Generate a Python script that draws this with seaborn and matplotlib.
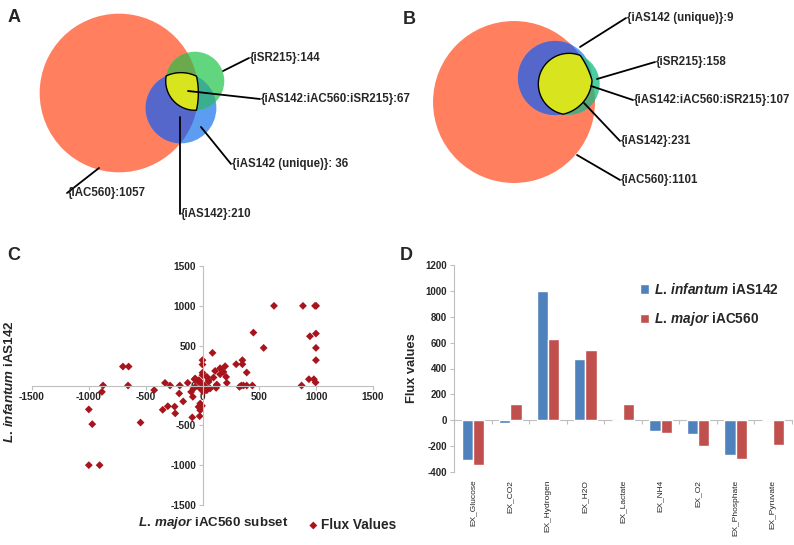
"""Four-panel figure: two area-proportional Venn diagrams (A, B),
a flux scatter (C) and an exchange-flux bar chart (D)."""

import matplotlib
matplotlib.use("Agg")
import matplotlib.pyplot as plt
import numpy as np
import pandas as pd
import seaborn as sns
from matplotlib.patches import Circle, Polygon

# ---------------------------------------------------------------- data
# Venn counts: iAC560, iAS142, iAS142 unique, iSR215, shared by all three
venn_a_counts = [1057, 210, 36, 144, 67]
venn_b_counts = [1101, 231, 9, 158, 107]

# Panel C: L. major iAC560 subset (x) vs L. infantum iAS142 (y)
flux_major = [
    -1000, -970, -1000, -905, -875, -885, -700, -650, -655, -545,
    -425, -350, -330, -305, -285, -245, -240, -200, -205, -170,
    -130, -100, -85, -80, -70, -90, -25, -20, -5, 0,
    0, 0, 0, -32, -64, -64, -35, -20, -5, 9,
    24, 38, 9, 53, 38, 53, 67, 88, 97, 111,
    126, 120, 126, 155, 185, 155, 208, 214, 199, 296,
    325, 342, 351, 351, 360, 389, 389, 439, 448, 538,
    629, 872, 884, 936, 945, 990, 1000, 998, 998, 998,
    980, 995, -35, -20,
]
flux_infantum = [
    -300, -485, -1000, -1000, 0, -80, 238, 238, 0, -465,
    -58, -305, 33, -260, 0, -265, -350, 0, -100, -200,
    33, -80, -142, -38, 79, -400, -385, -310, -255, 318,
    263, 160, 130, 67, 88, -17, 45, -38, 25, 4,
    -17, -59, -80, 45, 109, 67, -38, 410, 100, 183,
    12, -30, 0, 217, 170, 141, 108, 33, 242, 267,
    -17, 0, 318, 267, 0, 0, 163, 0, 664, 472,
    1000, 0, 1000, 79, 618, 1000, 1000, 652, 472, 318,
    79, 38, -268, -226,
]

# Panel D: exchange fluxes
exchanges = ["EX_Glucose", "EX_CO2", "EX_Hydrogen", "EX_H2O", "EX_Lactate",
             "EX_NH4", "EX_O2", "EX_Phosphate", "EX_Pyruvate"]
flux_ias142 = [-308, -25, 1000, 470, 0, -85, -105, -265, 0]
flux_iac560 = [-345, 125, 625, 540, 125, -100, -200, -300, -195]
model_names = [r"$\mathit{L.\,infantum}$ iAS142", r"$\mathit{L.\,major}$ iAC560"]

# ---------------------------------------------------------------- style
sns.set_style("white")
plt.rcParams["font.family"] = ["Liberation Sans", "DejaVu Sans"]
plt.rcParams["axes.unicode_minus"] = False
plt.rcParams["mathtext.fontset"] = "custom"
plt.rcParams["mathtext.it"] = "Liberation Sans:italic:bold"
plt.rcParams["mathtext.rm"] = "Liberation Sans:bold"

RED, BLUE = "#FF7F5F", "#5C9DF2"
AXIS_GREY = "#BFBFBF"
K = 2.44  # px per sqrt(count)

fig = plt.figure(figsize=(7.94, 5.45), dpi=100)

# full-figure canvas in pixel units for the Venn panels and letters
canvas = fig.add_axes([0, 0, 1, 1], zorder=0)
canvas.set_xlim(0, 794)
canvas.set_ylim(545, 0)
canvas.axis("off")


def lens(circles, n=720):
    """Polygon of the intersection of convex circles."""
    pts = []
    for i, (cx, cy, r) in enumerate(circles):
        t = np.linspace(0, 2 * np.pi, n, endpoint=False)
        x, y = cx + r * np.cos(t), cy + r * np.sin(t)
        ok = np.ones(n, bool)
        for j, (ox, oy, orad) in enumerate(circles):
            if j != i:
                ok &= (x - ox) ** 2 + (y - oy) ** 2 <= orad ** 2 + 1e-6
        pts.append(np.c_[x[ok], y[ok]])
    pts = np.vstack(pts)
    c = pts.mean(0)
    return pts[np.argsort(np.arctan2(pts[:, 1] - c[1], pts[:, 0] - c[0]))]


def venn(ax, counts, centers, colors, labels, leaders):
    big, shared, unique, sr, core = counts
    red = (*centers[0], K * np.sqrt(big))
    blue = (*centers[1], K * np.sqrt(shared))
    green = (*centers[2], K * np.sqrt(sr))
    ax.add_patch(Circle(red[:2], red[2], fc=RED, ec="none"))
    ax.add_patch(Circle(blue[:2], blue[2], fc=BLUE, ec="none"))
    ax.add_patch(Circle(green[:2], green[2], fc=colors["green"], ec="none"))
    ax.add_patch(Polygon(lens([blue, green]), fc=colors["bg"], ec="none"))
    ax.add_patch(Polygon(lens([red, blue]), fc="#5567CB", ec="none"))
    ax.add_patch(Polygon(lens([red, green]), fc=colors["rg"], ec="none"))
    ax.add_patch(Polygon(lens([red, blue, green]), fc="#D8E51E", ec="black", lw=1))
    for txt, (x0, y0, x1, y1) in zip(labels, leaders):
        ax.plot([x0, x1], [y0, y1], color="black", lw=1.3)
        ax.text(x1 + 1, y1, txt, fontsize=8.3, fontweight="bold", ha="left", va="center")


a = venn_a_counts
venn(canvas, a, [(119, 93), (181, 108), (195, 81)],
     {"green": "#61D67F", "bg": "#3BAE8F", "rg": "#6AAA4C"},
     [f"{{iSR215}}:{a[3]}", f"{{iAS142:iAC560:iSR215}}:{a[4]}",
      f"{{iAS142 (unique)}}: {a[2]}", f"{{iAC560}}:{a[0]}", f"{{iAS142}}:{a[1]}"],
     [(223, 71, 249, 58), (188, 91, 260, 99), (201, 127, 231, 164),
      (99, 168, 67, 193), (180, 117, 180, 214)])
b = venn_b_counts
venn(canvas, b, [(514, 102), (555, 78), (569, 84)],
     {"green": "#4CCFA0", "bg": "#3DB88F", "rg": "#55A878"},
     [f"{{iAS142 (unique)}}:{b[2]}", f"{{iSR215}}:{b[3]}",
      f"{{iAS142:iAC560:iSR215}}:{b[4]}", f"{{iAS142}}:{b[1]}", f"{{iAC560}}:{b[0]}"],
     [(580, 47, 626, 18), (597, 79, 655, 62), (591, 86, 633, 100),
      (584, 103, 620, 141), (577, 155, 620, 180)])

for letter, (x, y) in {"A": (8, 18), "B": (403, 19), "C": (7, 256), "D": (400, 256)}.items():
    canvas.text(x, y, letter, fontsize=13, fontweight="bold", ha="left", va="center")

# ---------------------------------------------------------------- panel C
axc = fig.add_axes([32 / 794, 1 - 505 / 545, 341 / 794, 239 / 545], zorder=2)
axc.patch.set_alpha(0)
sns.scatterplot(x=flux_major, y=flux_infantum, ax=axc, marker="D", s=16,
                color="#A8141C", edgecolor="none", label="Flux Values")
axc.set_xlim(-1500, 1500)
axc.set_ylim(-1500, 1500)
axc.set_xticks(range(-1500, 1501, 500))
axc.set_yticks(range(-1500, 1501, 500))
for side in ("left", "bottom"):
    axc.spines[side].set_position(("data", 0))
    axc.spines[side].set_color(AXIS_GREY)
for side in ("top", "right"):
    axc.spines[side].set_visible(False)
axc.tick_params(length=3, width=0.8, color=AXIS_GREY, labelsize=7.3, pad=1.5,
                direction="out", left=True, bottom=True)
for lab in axc.get_xticklabels() + axc.get_yticklabels():
    lab.set_fontweight("bold")
axc.legend(loc="center left", bbox_to_anchor=(0.805, -0.084), frameon=False,
           handletextpad=0.1, borderpad=0, borderaxespad=0, handlelength=1.0,
           prop={"size": 9.8, "weight": "bold"})
fig.text(213 / 794, 1 - 523 / 545, r"$\mathit{L.\,major}$ iAC560 subset",
         fontsize=9.6, fontweight="bold", ha="center", va="center")
fig.text(10 / 794, 1 - 382 / 545, r"$\mathit{L.\,infantum}$ iAS142",
         fontsize=9.6, fontweight="bold", ha="center", va="center", rotation=90)

# ---------------------------------------------------------------- panel D
df = pd.DataFrame({
    "exchange": exchanges * 2,
    "flux": flux_ias142 + flux_iac560,
    "model": [model_names[0]] * len(exchanges) + [model_names[1]] * len(exchanges),
})
axd = fig.add_axes([454 / 794, 1 - 472 / 545, 338 / 794, 207 / 545], zorder=2)
axd.patch.set_alpha(0)
sns.barplot(data=df, x="exchange", y="flux", hue="model", ax=axd,
            palette=["#4F81BD", "#C0504D"], width=0.6, gap=0, saturation=1)
axd.set_ylim(-400, 1200)
axd.set_yticks(range(-400, 1201, 200))
axd.set_xlim(-0.5, len(exchanges) - 0.5)
axd.set_xlabel("")
axd.set_ylabel("Flux values", fontsize=9.3, fontweight="bold", labelpad=5)
for side in ("top", "right", "bottom"):
    axd.spines[side].set_visible(False)
axd.spines["left"].set_color(AXIS_GREY)
axd.tick_params(axis="y", length=3, color=AXIS_GREY, labelsize=7, pad=2, left=True)
for lab in axd.get_yticklabels():
    lab.set_fontweight("bold")
axd.tick_params(axis="x", length=0, labelsize=6, pad=5.5)
plt.setp(axd.get_xticklabels(), rotation=90, va="top", ha="center")
zero = axd.secondary_xaxis(0.25)
zero.set_xticks(np.arange(len(exchanges) + 1) - 0.5, labels=[])
zero.tick_params(length=3, color=AXIS_GREY, direction="out")
zero.spines["bottom"].set_color(AXIS_GREY)
axd.legend(loc="upper left", bbox_to_anchor=(0.55, 0.92), frameon=False,
           borderpad=0, borderaxespad=0,
           handlelength=0.7, handleheight=0.7, handletextpad=0.3, labelspacing=1.0,
           prop={"size": 9.8, "weight": "bold"})

fig.savefig("out.png", dpi=100)
